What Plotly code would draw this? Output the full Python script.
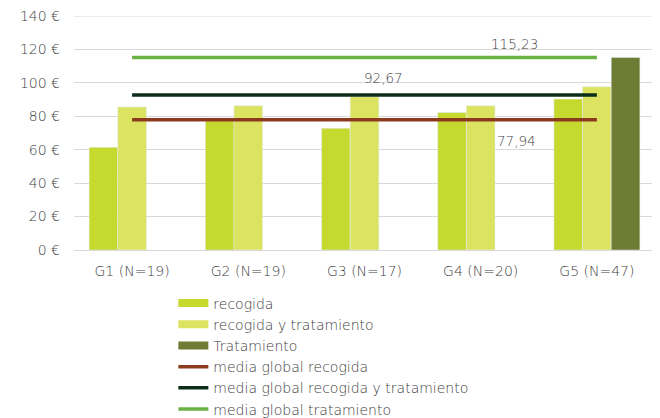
import plotly.graph_objects as go

categories = ["G1 (N=19)", "G2 (N=19)", "G3 (N=17)", "G4 (N=20)", "G5 (N=47)"]
recogida = [61.4, 79.0, 72.8, 82.2, 90.3]
recogida_tratamiento = [85.6, 86.3, 91.7, 86.3, 97.7]
tratamiento = [None, None, None, None, 115.23]
media_recogida = 77.94
media_ryt = 92.67
media_trat = 115.23
tick_vals = [0, 20, 40, 60, 80, 100, 120, 140]
tick_text = [f"{v} €" for v in tick_vals]

C_REC = "#C5D92E"
C_RYT = "#DBE360"
C_TRAT = "#6E7C34"
C_MREC = "#8B3A1E"
C_MRYT = "#0B2D19"
C_MTRAT = "#6AB244"
FONT = "DejaVu Sans"
WEIGHT = 300
GRAY = "#404040"
GRID = "#D9D9D9"

fig = go.Figure()
fig.add_bar(x=categories, y=recogida, name="recogida", marker_color=C_REC, showlegend=False)
fig.add_bar(x=categories, y=recogida_tratamiento, name="recogida y tratamiento", marker_color=C_RYT, showlegend=False)
fig.add_bar(x=categories, y=tratamiento, name="Tratamiento", marker_color=C_TRAT, showlegend=False)

# legend proxies for bars
for nm, c in [("recogida", C_REC), ("recogida y tratamiento", C_RYT), ("Tratamiento", C_TRAT)]:
    fig.add_scatter(x=[None], y=[None], mode="lines", name=nm, line=dict(color=c, width=8))

for nm, val, c in [("media global recogida", media_recogida, C_MREC),
                   ("media global recogida y tratamiento", media_ryt, C_MRYT),
                   ("media global tratamiento", media_trat, C_MTRAT)]:
    fig.add_scatter(x=categories, y=[val] * len(categories), mode="lines", name=nm,
                    line=dict(color=c, width=3.5))

def fmt(v):
    return f"{v:.2f}".replace(".", ",")

for xv, yv, txt, yshift in [(3.29, media_trat, fmt(media_trat), 13),
                           (2.16, media_ryt, fmt(media_ryt), 17),
                           (3.31, media_recogida, fmt(media_recogida), -21)]:
    fig.add_annotation(x=xv, y=yv, text=txt, showarrow=False, yshift=yshift,
                       font=dict(family=FONT, size=13.5, color=GRAY, weight=WEIGHT))

# top gridline (plotly omits the one on the plot edge)
fig.add_shape(type="line", xref="paper", yref="y", x0=0, x1=1, y0=tick_vals[-1], y1=tick_vals[-1],
              line=dict(color=GRID, width=1), layer="below")

fig.update_layout(
    width=660, height=418,
    margin=dict(l=66, r=13, t=8, b=176, autoexpand=False),
    paper_bgcolor="white", plot_bgcolor="white",
    barmode="group", bargap=0.26, bargroupgap=0,
    font=dict(family=FONT, size=13, color=GRAY, weight=WEIGHT),
    legend=dict(x=0.171, y=-0.16, xanchor="left", yanchor="top",
                orientation="v", tracegroupgap=0, itemwidth=30,
                font=dict(family=FONT, size=14, color=GRAY, weight=WEIGHT), traceorder="normal"),
)
fig.update_xaxes(showgrid=False, showline=False, ticks="", tickangle=0, ticklabelstandoff=11,
                 tickfont=dict(family=FONT, size=14, color=GRAY, weight=WEIGHT))
fig.update_yaxes(range=[0, 140], tickvals=tick_vals, ticktext=tick_text, showgrid=True,
                 gridcolor=GRID, gridwidth=1, zeroline=True, zerolinecolor=GRID,
                 zerolinewidth=1, ticks="", ticklabelstandoff=13, ticklabeloverflow="allow",
                 tickfont=dict(family=FONT, size=14, color=GRAY, weight=WEIGHT))

fig.write_html("out.html")
